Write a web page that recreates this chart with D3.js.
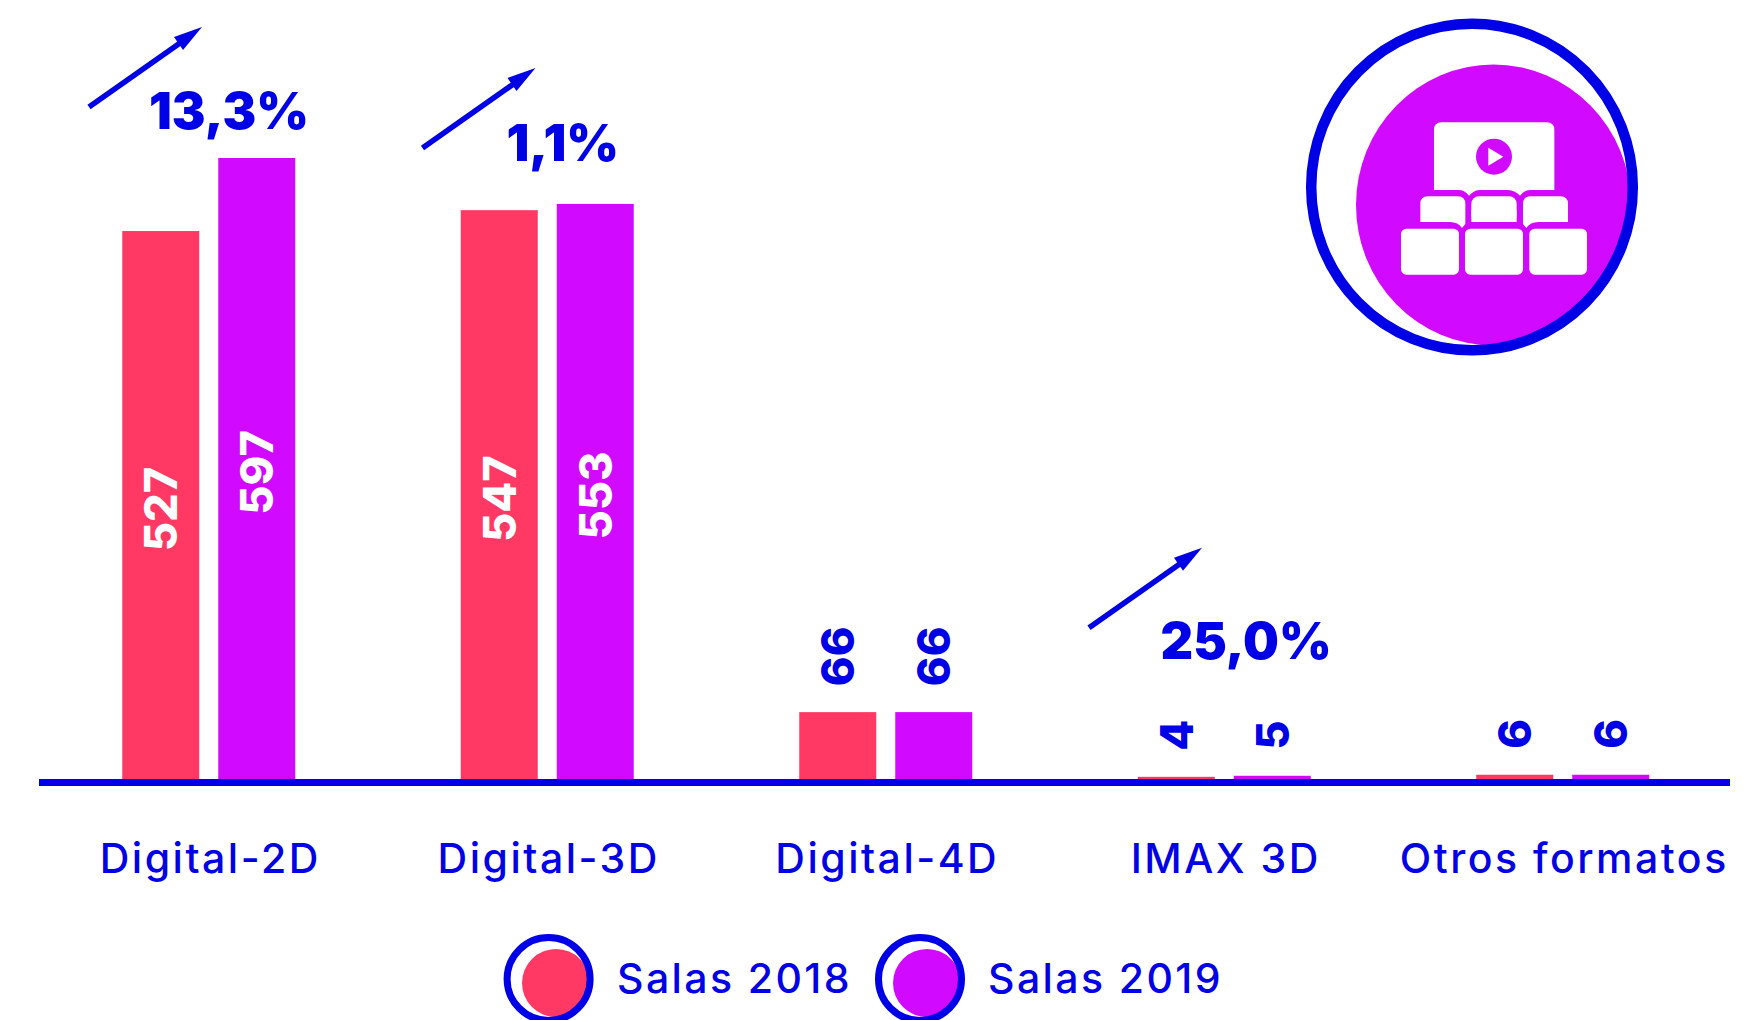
<!DOCTYPE html>
<html><head><meta charset="utf-8">
<script src="https://cdn.jsdelivr.net/npm/d3@7"></script>
<style>html,body{margin:0;padding:0;background:#fff;overflow:hidden}svg{display:block}text{font-family:Inter,"Open Sans",sans-serif}</style>
</head><body><svg id="c" width="1748" height="1020"></svg>
<script>
const categories = ["Digital-2D","Digital-3D","Digital-4D","IMAX 3D","Otros formatos"];
const seriesNames = ["Salas 2018","Salas 2019"];
const salas2018 = [527,547,66,4,6];
const salas2019 = [597,553,66,5,6];
const changeLabels = ["13,3%","1,1%",null,"25,0%",null];

const BLUE="#0000e6", RED="#ff3864", PURPLE="#d10aff";
const colors=[RED,PURPLE];
const svg=d3.select("#c");
const x=d3.scaleBand().domain(categories).range([40,1732.5]);
const sub=d3.scaleBand().domain([0,1]).range([x.bandwidth()/2-87,x.bandwidth()/2+86]).paddingInner(0.198);
const y=d3.scaleLinear().domain([0,597]).range([781,158]);

const rows=categories.map((c,i)=>({c,vals:[salas2018[i],salas2019[i]],change:changeLabels[i]}));
const g=svg.selectAll("g.cat").data(rows).join("g").attr("class","cat").attr("transform",d=>`translate(${x(d.c)},0)`);
g.selectAll("rect").data(d=>d.vals.map((v,s)=>({v,s}))).join("rect")
  .attr("x",d=>sub(d.s)).attr("width",sub.bandwidth()).attr("y",d=>y(d.v)).attr("height",d=>y(0)-y(d.v)).attr("fill",d=>colors[d.s]);
g.selectAll("text.val").data(d=>d.vals.map((v,s)=>({v,s}))).join("text").attr("class","val")
  .attr("transform",d=>{
    const cx=sub(d.s)+sub.bandwidth()/2;
    const inside=d.v>200;
    const py=inside?(y(d.v)+y(0))/2+3:y(d.v)-26;
    return `translate(${cx},${py}) rotate(-90)`;
  })
  .attr("text-anchor",d=>d.v>200?"middle":"start").attr("dominant-baseline","central")
  .attr("font-size",45).attr("font-weight",800).attr("fill",d=>d.v>200?"#fff":BLUE).text(d=>d.v);

svg.append("line").attr("x1",39).attr("x2",1730).attr("y1",782.5).attr("y2",782.5).attr("stroke",BLUE).attr("stroke-width",7);
svg.selectAll("text.cat").data(categories).join("text").attr("class","cat")
  .attr("x",d=>x(d)+x.bandwidth()/2+1).attr("y",873).attr("text-anchor","middle").attr("font-size",41).attr("font-weight",500).attr("letter-spacing",2.5).attr("fill",BLUE).text(d=>d);

// change annotations, placed from the taller bar of each group
const annDx={"Digital-2D":0,"Digital-3D":-5,"IMAX 3D":-15.5};
const annDy={"Digital-2D":0,"Digital-3D":-5,"IMAX 3D":-97};
const annTextX={"Digital-2D":109,"Digital-3D":128,"IMAX 3D":105};
const annTextY={"Digital-2D":-29,"Digital-3D":-43,"IMAX 3D":-117};
const ann=rows.filter(d=>d.change);
const ag=svg.selectAll("g.ann").data(ann).join("g").attr("class","ann")
  .attr("transform",d=>`translate(${x(d.c)},${y(Math.max(...d.vals))})`);
const ar=ag.append("g").attr("transform",d=>`translate(${annDx[d.c]},${annDy[d.c]})`);
ar.append("path").attr("d","M49,-51 L150,-122").attr("stroke",BLUE).attr("stroke-width",5.5).attr("fill","none");
ar.append("path").attr("d","M162,-131 L134,-121 L143,-108 Z").attr("fill",BLUE);
ag.append("text").attr("x",d=>annTextX[d.c]).attr("y",d=>annTextY[d.c]).attr("font-size",50.5).attr("font-weight",900).attr("fill",BLUE).text(d=>d.change);

// legend
const lx=[548.6,920], fx=[556,927], tx=[617,988];
const lg=svg.selectAll("g.leg").data(seriesNames).join("g").attr("class","leg");
lg.append("circle").attr("cx",(d,i)=>fx[i]).attr("cy",983).attr("r",34).attr("fill",(d,i)=>colors[i]);
lg.append("circle").attr("cx",(d,i)=>lx[i]).attr("cy",979).attr("r",41.5).attr("fill","none").attr("stroke",BLUE).attr("stroke-width",7);
lg.append("text").attr("x",(d,i)=>tx[i]).attr("y",993).attr("font-size",41).attr("font-weight",500).attr("letter-spacing",2.4).attr("fill",BLUE).text(d=>d);

// cinema icon
svg.append("ellipse").attr("cx",1493.5).attr("cy",205).attr("rx",137.5).attr("ry",140.5).attr("fill",PURPLE);
svg.append("ellipse").attr("cx",1472).attr("cy",187).attr("rx",160.8).attr("ry",163.3).attr("fill","none").attr("stroke",BLUE).attr("stroke-width",10.5);
const ic=svg.append("g").attr("transform","translate(1280,0) scale(0.33333)").attr("fill","#fff");
ic.append("path").attr("d","M462,570 V390 Q462,367 485,367 H800 Q823,367 823,390 V570 H750 Q732,570 720,587 Q705,570 680,570 H600 Q582,570 567,587 Q555,570 535,570 Z");
ic.append("circle").attr("cx",642).attr("cy",470).attr("r",54).attr("fill",PURPLE);
ic.append("path").attr("d","M625,443 L670,470 L625,497 Z");
ic.append("path").attr("d","M421,666 V612 Q421,589 444,589 H533 Q556,589 556,612 V672 L546,684 Q535,666 510,666 Z");
ic.append("rect").attr("x",574).attr("y",589).attr("width",136).attr("height",77).attr("rx",22);
ic.append("rect").attr("x",574).attr("y",630).attr("width",136).attr("height",36);
ic.append("path").attr("d","M864,666 V612 Q864,589 841,589 H752 Q729,589 729,612 V672 L739,684 Q750,666 775,666 Z");
[[363,174],[555,174],[748,173]].forEach(([a,w])=>{
  ic.append("rect").attr("x",a).attr("y",686).attr("width",w).attr("height",138).attr("rx",16);
});
</script></body></html>
